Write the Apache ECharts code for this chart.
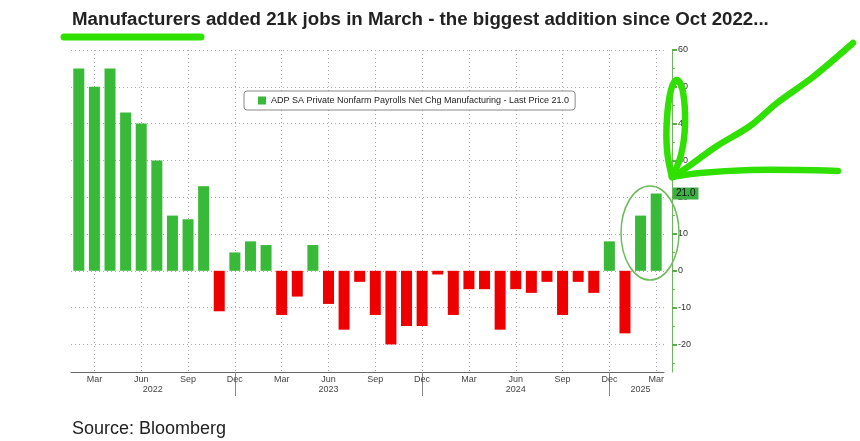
<!DOCTYPE html>
<html>
<head>
<meta charset="utf-8">
<script src="https://cdn.jsdelivr.net/npm/echarts@6/dist/echarts.min.js"></script>
<style>
  html, body { margin: 0; padding: 0; background: #fff; }
  #chart { width: 860px; height: 441px; }
</style>
</head>
<body>
<div id="chart"></div>
<script>
// monthly categories, Feb 2022 .. Mar 2025
const categories = [
  "Feb 2022", "Mar 2022", "Apr 2022", "May 2022", "Jun 2022", "Jul 2022", "Aug 2022", "Sep 2022", "Oct 2022", "Nov 2022", "Dec 2022",
  "Jan 2023", "Feb 2023", "Mar 2023", "Apr 2023", "May 2023", "Jun 2023", "Jul 2023", "Aug 2023", "Sep 2023", "Oct 2023", "Nov 2023", "Dec 2023",
  "Jan 2024", "Feb 2024", "Mar 2024", "Apr 2024", "May 2024", "Jun 2024", "Jul 2024", "Aug 2024", "Sep 2024", "Oct 2024", "Nov 2024", "Dec 2024",
  "Jan 2025", "Feb 2025", "Mar 2025",
];
// ADP manufacturing net change, thousands
const values = [
  55, 50, 55, 43, 40, 30, 15, 14, 23, -11, 5,
  8, 7, -12, -7, 7, -9, -16, -3, -12, -20, -15, -15,
  -1, -12, -5, -5, -16, -5, -6, -3, -12, -3, -6, 8,
  -17, 15, 21,
];
const monthTicks = ["Mar", "Jun", "Sep", "Dec"];
// where each year label sits
const yearLabelAt = ["Jul 2022", "Jun 2023", "Jun 2024", "Feb 2025"];
const yLabels = [-20, -10, 0, 10, 20, 30, 40, 50, 60];
const yMinor = [-25, -15, -5, 5, 15, 25, 35, 45, 55];
const lastPrice = 21.0;

const seriesName = "ADP SA Private Nonfarm Payrolls Net Chg Manufacturing - Last Price 21.0";
const green = "#38b938";
const red = "#ee0000";
const marker = "#2fe000";
const font = "Liberation Sans, Arial, sans-serif";

const chart = echarts.init(document.getElementById("chart"));

const option = {
  backgroundColor: "#fff",
  animation: false,
  textStyle: { fontFamily: font },
  grid: { left: 71, right: 196, top: 50, bottom: 69 },
  legend: {
    left: 244,
    top: 91,
    padding: [5, 6, 5, 14],
    borderColor: "#888",
    borderWidth: 1,
    borderRadius: 3,
    backgroundColor: "#fff",
    icon: "rect",
    itemWidth: 8,
    itemHeight: 8,
    itemGap: 4,
    textStyle: { fontSize: 9, color: "#222", fontFamily: font },
    data: [seriesName],
  },
  xAxis: [
    {
      type: "category",
      data: categories,
      axisLine: { onZero: false, lineStyle: { color: "#666", width: 1 } },
      axisTick: { alignWithLabel: true, interval: 0, length: 3, lineStyle: { color: "#666" } },
      axisLabel: {
        interval: (i, v) => monthTicks.includes(v.split(" ")[0]),
        formatter: (v) => v.split(" ")[0],
        margin: 3,
        fontSize: 9,
        color: "#444",
      },
      splitLine: {
        show: true,
        alignWithLabel: true,
        interval: (i, v) => monthTicks.includes(v.split(" ")[0]),
        lineStyle: { color: "#aaa", type: [1, 3] },
      },
    },
    {
      type: "category",
      data: categories,
      position: "bottom",
      axisLine: { show: false, onZero: false },
      axisTick: {
        show: true,
        alignWithLabel: true,
        interval: (i, v) => v.startsWith("Dec"),
        length: 24,
        lineStyle: { color: "#888" },
      },
      axisLabel: {
        interval: (i, v) => yearLabelAt.includes(v),
        formatter: (v) => (v === "Jul 2022" ? "{s|" + v.split(" ")[1] + "}" : v.split(" ")[1]),
        rich: { s: { fontSize: 9, color: "#444", padding: [0, 8, 0, 0] } },
        margin: 13,
        fontSize: 9,
        color: "#444",
      },
      splitLine: { show: false },
    },
  ],
  yAxis: [
    {
      type: "value",
      position: "right",
      offset: 8,
      min: -27.5,
      max: 60,
      axisLine: { show: true, lineStyle: { color: "#6ab85a" } },
      axisTick: { show: true, customValues: yLabels, length: 5, lineStyle: { color: "#5aae4a", width: 2 } },
      axisLabel: { customValues: yLabels, margin: 6, fontSize: 9, color: "#333" },
      splitLine: { show: false },
    },
    {
      type: "value",
      position: "right",
      offset: 8,
      min: -27.5,
      max: 60,
      axisLine: { show: false },
      axisTick: { show: true, customValues: yMinor, length: 3, lineStyle: { color: "#6ab85a" } },
      axisLabel: { show: false },
      splitLine: { show: false },
    },
    {
      // plain left axis only for the dotted horizontal grid
      type: "value",
      position: "left",
      min: -27.5,
      max: 60,
      axisLine: { show: false },
      axisTick: { show: false, customValues: yLabels },
      axisLabel: { show: false, customValues: yLabels },
      splitLine: { show: true, lineStyle: { color: "#aaa", type: [1, 3] } },
    },
  ],
  series: [
    {
      name: seriesName,
      type: "bar",
      barWidth: 11,
      itemStyle: { color: green },
      data: values.map((v) => ({
        value: v,
        itemStyle: { color: v < 0 ? red : green },
      })),
      markLine: {
        silent: true,
        symbol: "none",
        lineStyle: { color: "rgba(0,0,0,0)", width: 0 },
        label: {
          show: true,
          position: "end",
          distance: 9,
          formatter: lastPrice.toFixed(1),
          backgroundColor: "#3cb043",
          color: "#111",
          fontSize: 10,
          padding: [1, 3, 1, 3],
        },
        data: [{ yAxis: lastPrice }],
      },
    },
  ],
  graphic: [
    {
      type: "text",
      left: 72,
      top: 10,
      style: {
        text: "Manufacturers added 21k jobs in March - the biggest addition since Oct 2022...",
        font: "bold 18.7px " + font,
        fill: "#222",
      },
    },
    {
      type: "line",
      shape: { x1: 64, y1: 37, x2: 201, y2: 37 },
      style: { stroke: marker, lineWidth: 7, lineCap: "round" },
      z: -1,
    },
    {
      type: "text",
      left: 72,
      top: 420,
      style: { text: "Source: Bloomberg", font: "18px " + font, fill: "#222" },
    },
    {
      // small expand box in the legend
      type: "group",
      left: 248,
      top: 98,
      children: [
        { type: "rect", shape: { x: 0, y: 0, width: 6, height: 6 }, style: { fill: "#fff", stroke: "#777", lineWidth: 1 } },
        { type: "line", shape: { x1: 1.5, y1: 3, x2: 4.5, y2: 3 }, style: { stroke: "#555", lineWidth: 1 } },
        { type: "line", shape: { x1: 3, y1: 1.5, x2: 3, y2: 4.5 }, style: { stroke: "#555", lineWidth: 1 } },
      ],
      z: 100,
    },
    {
      // hand-drawn highlight round the last two bars
      type: "ellipse",
      shape: { cx: 650, cy: 233, rx: 29, ry: 47 },
      style: { fill: "none", stroke: "#6dbb5a", lineWidth: 1.5 },
      z: 50,
    },
    {
      type: "polyline",
      shape: {
        points: [[853, 43], [813, 77], [777, 103], [750, 126], [717, 146], [682, 171], [672, 177]],
        smooth: 0.3,
      },
      style: { stroke: marker, lineWidth: 6.5, lineCap: "round", lineJoin: "round", fill: "none" },
      z: 60,
    },
    {
      type: "polyline",
      shape: {
        points: [[672, 177], [700, 173], [750, 170], [800, 170], [838, 171]],
        smooth: 0.3,
      },
      style: { stroke: marker, lineWidth: 6.5, lineCap: "round", lineJoin: "round", fill: "none" },
      z: 60,
    },
    {
      type: "polyline",
      shape: {
        points: [[672, 177], [667, 150], [667, 118], [671, 90], [677, 80], [683, 92], [685, 125], [681, 155], [672, 177]],
        smooth: 0.4,
      },
      style: { stroke: marker, lineWidth: 6.5, lineCap: "round", lineJoin: "round", fill: "none" },
      z: 60,
    },
  ],
};

chart.setOption(option);
window.addEventListener("resize", () => {
  chart.resize();
});
</script>
</body>
</html>
